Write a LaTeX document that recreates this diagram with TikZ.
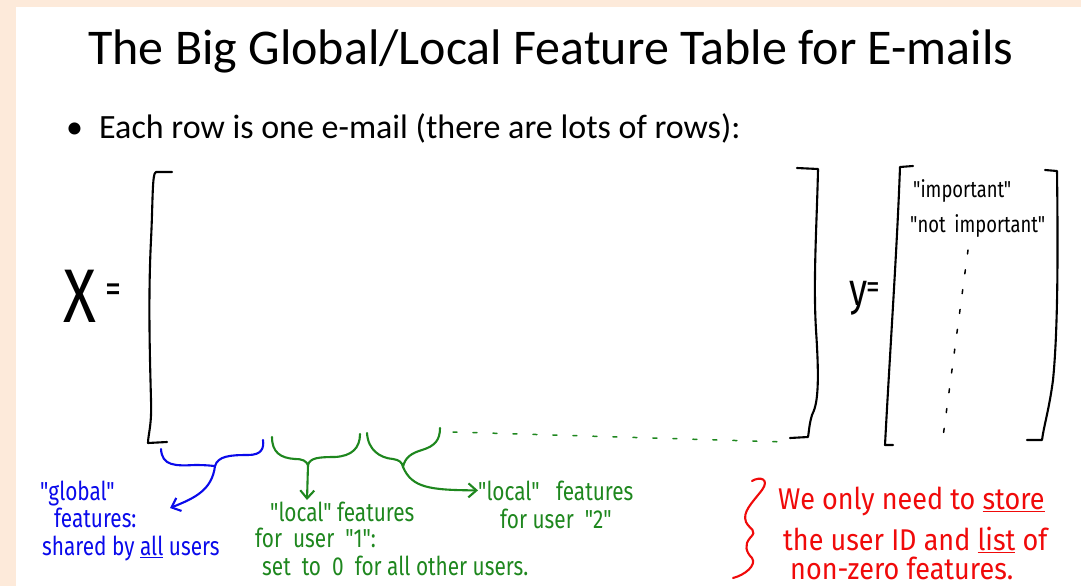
\documentclass[tikz,border=0pt]{standalone}
\usepackage{fontspec}
\setmainfont{Carlito}
\newfontfamily\hand[FakeStretch=0.8]{Fira Sans}
\newfontfamily\handwide[FakeStretch=0.9]{Fira Sans}
\usetikzlibrary{arrows.meta}
\definecolor{peach}{RGB}{253,234,218}
\definecolor{inkgreen}{RGB}{30,135,30}
\definecolor{inkblue}{RGB}{10,10,235}
\definecolor{inkred}{RGB}{240,10,10}

\begin{document}
\begin{tikzpicture}[
  x=1pt,
  y=-1pt,
  >={Straight Barb[length=8pt,width=14pt]},
  pen/.style={line width=2.1pt, line cap=round, line join=round},
  ink/.style={font=\hand\fontsize{26}{30}\selectfont, anchor=base west, inner sep=0pt},
  bigink/.style={font=\handwide\fontsize{30}{34}\selectfont, anchor=base west, inner sep=0pt},
  slide/.style={anchor=base west, inner sep=0pt}
]
  % slide background
  \useasboundingbox (0,0) rectangle (1081,586);
  \fill[peach] (0,0) rectangle (1081,586);
  \fill[white] (16,7) rectangle (1081,586);

  \node[slide, font=\fontsize{50}{60}\selectfont] (title) at (88,65) {The Big Global/Local Feature Table for E-mails};
  \node[slide, font=\fontsize{34}{40}\selectfont] (dot) at (66,138) {\textbullet};
  \node[slide, font=\fontsize{34}{40}\selectfont] (rows) at (99,138) {Each row is one e-mail (there are lots of rows):};

  % X matrix
  \node[ink, font=\hand\fontsize{76}{80}\selectfont] (xname) at (63,322) {X};
  \node[ink, font=\hand\fontsize{40}{44}\selectfont] (xeq) at (105,302) {=};
  \draw[pen] (172,172) -- (156,172) .. controls (152,173) and (153,200) .. (151,240)
    .. controls (148,300) and (150,360) .. (151,400) .. controls (152,425) and (148,435) .. (148,443) -- (167,442);
  \draw[pen] (797,168) -- (818,169) .. controls (817,220) and (813,280) .. (816,330)
    .. controls (820,390) and (817,405) .. (812,415) .. controls (809,425) and (809,432) .. (808,437) -- (790,438);

  % y vector
  \node[ink, font=\hand\fontsize{46}{50}\selectfont] (yname) at (849,305) {y};
  \node[ink, font=\hand\fontsize{34}{38}\selectfont] (yeq) at (866,298) {=};
  \draw[pen] (913,166) -- (900,167) .. controls (897,250) and (890,350) .. (885,445) -- (893,445);
  \draw[pen] (1045,170) -- (1057,171) .. controls (1058,250) and (1058,330) .. (1053,380)
    .. controls (1049,410) and (1044,425) .. (1042,440) -- (1027,440);
  \node[ink, font=\hand\fontsize{23}{26}\selectfont] (imp) at (913,197) {"important"};
  \node[ink, font=\hand\fontsize{23}{26}\selectfont] (notimp) at (910,232) {"not \,important"};
  \draw[pen, line width=1.5pt, dash pattern=on 4pt off 16pt] (968,250) -- (943,437);

  % blue brace: global features
  \coordinate (gtip) at (215,466);
  \draw[pen, inkblue] (161,449) .. controls (162,466) and (175,466) .. (195,465)
    .. controls (208,465) and (213,466) .. (gtip) .. controls (218,456) and (230,455) .. (248,455)
    .. controls (262,455) and (264,448) .. (263,440);
  \coordinate (gend) at (170,508);
  \draw[pen, inkblue, ->] (gtip) .. controls (212,490) and (195,498) .. (gend);
  \node[ink, inkblue] (glob1) at (40,500) {"global"};
  \node[ink, inkblue, text depth=0pt] (glob2) at (54,527) {features:};
  \node[ink, inkblue] (glob3) at (42,555) {shared by \underline{all} users};

  % green braces: local features
  \coordinate (l1tip) at (308,465);
  \draw[pen, inkgreen] (272,437) .. controls (272,452) and (280,458) .. (295,459)
    .. controls (303,459) and (306,461) .. (l1tip) .. controls (310,458) and (318,457) .. (335,457)
    .. controls (352,456) and (360,448) .. (360,434);
  \coordinate (l1end) at (307,500);
  \draw[pen, inkgreen, ->] (l1tip) -- (l1end);
  \coordinate (l2tip) at (403,467);
  \draw[pen, inkgreen] (367,433) .. controls (368,450) and (380,458) .. (393,459)
    .. controls (399,460) and (402,462) .. (l2tip) .. controls (405,457) and (412,453) .. (422,450)
    .. controls (435,446) and (440,440) .. (440,428);
  \node[ink, inkgreen] (loc2a) at (478,500) {"local" \ \ features};
  \node[ink, inkgreen] (loc2b) at (500,528) {for user \ "2"};
  \draw[pen, inkgreen, ->] (l2tip) .. controls (412,488) and (430,490) .. (loc2a.west);
  \draw[pen, inkgreen, line width=1.5pt, dash pattern=on 4pt off 16pt] (453,432) -- (785,442);
  \node[ink, inkgreen] (loc1a) at (270,521) {"local" features};
  \node[ink, inkgreen] (loc1b) at (255,547) {for \ user \ "1":};
  \node[ink, inkgreen] (loc1c) at (262,575) {set \ to \ 0 \ for all other users.};

  % red note
  \draw[pen, inkred] (752,481) .. controls (760,476) and (770,479) .. (762,490)
    .. controls (752,503) and (742,512) .. (746,522) .. controls (750,530) and (758,530) .. (750,538)
    .. controls (744,545) and (746,552) .. (752,558) .. controls (757,565) and (745,575) .. (733,578);
  \node[bigink, inkred] (note1) at (778,509) {We only need to \underline{store}};
  \node[bigink, inkred, text depth=0pt] (note2) at (783,550) {the user ID and \underline{list} of};
  \node[bigink, inkred, text depth=0pt] (note3) at (790,579) {non-zero features.};
\end{tikzpicture}
\end{document}
